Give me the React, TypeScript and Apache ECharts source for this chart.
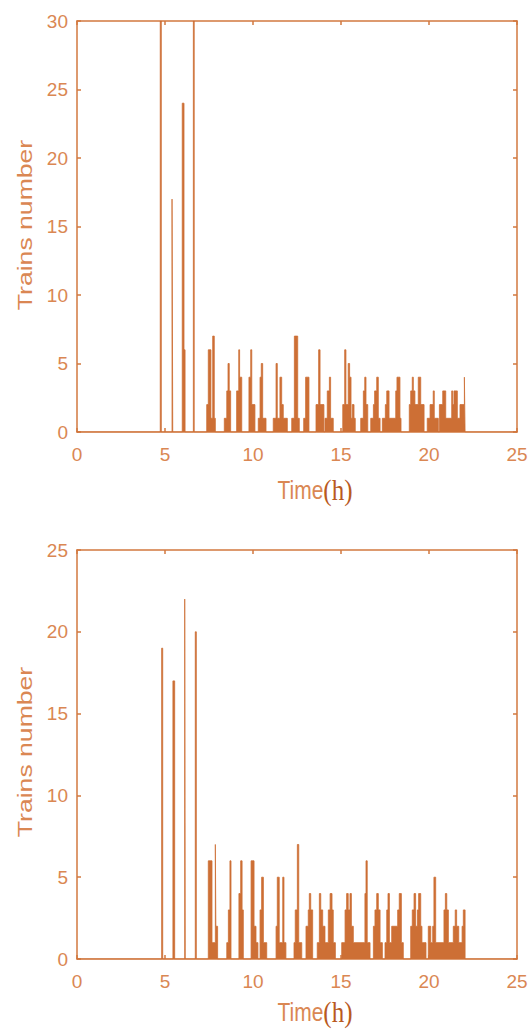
import React, { useEffect, useRef } from "react";
import * as echarts from "echarts";

// [start hour, end hour, trains] — upper panel
const topSpikes: number[][] = [
  [4.73, 4.79, 30],
  [5.4, 5.44, 17],
  [5.98, 6.08, 24],
  [6.08, 6.14, 6],
  [6.61, 6.66, 30],
];
const topBins: number[][] = [
  [7.37, 7.46, 2], [7.46, 7.61, 6], [7.61, 7.71, 1], [7.71, 7.8, 7], [7.8, 7.86, 1],
  [8.37, 8.51, 1], [8.51, 8.58, 3], [8.58, 8.65, 5], [8.65, 8.73, 3],
  [9.07, 9.19, 3], [9.19, 9.24, 6], [9.24, 9.36, 4],
  [9.77, 9.87, 4], [9.87, 9.93, 6], [9.93, 10.11, 2],
  [10.3, 10.4, 1], [10.4, 10.47, 4], [10.47, 10.55, 5], [10.55, 10.74, 1],
  [11.15, 11.31, 1], [11.31, 11.38, 5], [11.38, 11.53, 1], [11.53, 11.63, 4], [11.63, 11.72, 2], [11.72, 11.95, 1],
  [12.2, 12.35, 1], [12.35, 12.54, 7], [12.54, 12.63, 1],
  [12.88, 12.99, 1], [12.99, 13.18, 4],
  [13.58, 13.73, 2], [13.73, 13.81, 6], [13.81, 14.03, 2],
  [14.09, 14.22, 1], [14.22, 14.34, 3], [14.34, 14.41, 4], [14.41, 14.56, 1],
  [15.1, 15.21, 2], [15.21, 15.28, 6], [15.28, 15.41, 2], [15.41, 15.49, 5], [15.49, 15.57, 4],
  [15.57, 15.64, 1], [15.64, 15.74, 2], [15.74, 15.81, 1],
  [16.12, 16.27, 1], [16.27, 16.35, 3], [16.35, 16.42, 4], [16.42, 16.52, 2],
  [16.69, 16.84, 1], [16.84, 16.91, 2], [16.91, 17.03, 3], [17.03, 17.12, 4], [17.12, 17.22, 1],
  [17.35, 17.52, 1], [17.52, 17.6, 2], [17.6, 17.73, 3], [17.73, 18.11, 1], [18.11, 18.18, 3], [18.18, 18.35, 4], [18.35, 18.41, 1],
  [18.88, 18.96, 2], [18.96, 19.05, 3], [19.05, 19.11, 4], [19.11, 19.2, 3], [19.2, 19.39, 2], [19.39, 19.53, 4], [19.53, 19.72, 2],
  [19.9, 20.06, 1], [20.06, 20.24, 2], [20.24, 20.3, 3], [20.3, 20.53, 1],
  [20.59, 20.78, 2], [20.78, 20.95, 3], [20.95, 21.29, 1], [21.29, 21.35, 3], [21.35, 21.42, 2],
  [21.42, 21.61, 3], [21.61, 21.76, 1], [21.76, 22.01, 2], [22.01, 22.05, 4],
];

// lower panel
const bottomSpikes: number[][] = [
  [4.81, 4.87, 19],
  [5.45, 5.55, 17],
  [6.12, 6.15, 22],
  [6.72, 6.78, 20],
];
const bottomBins: number[][] = [
  [7.46, 7.67, 6], [7.67, 7.86, 1], [7.86, 7.89, 7], [7.89, 7.99, 2],
  [8.51, 8.6, 1], [8.6, 8.69, 3], [8.69, 8.75, 6],
  [9.2, 9.3, 4], [9.3, 9.38, 6], [9.38, 9.45, 3],
  [9.89, 10.06, 6], [10.06, 10.17, 2], [10.17, 10.28, 1],
  [10.4, 10.49, 3], [10.49, 10.59, 5], [10.59, 10.78, 1],
  [11.31, 11.38, 2], [11.38, 11.49, 5], [11.49, 11.69, 1], [11.69, 11.76, 5], [11.76, 11.87, 1],
  [12.33, 12.4, 1], [12.4, 12.52, 3], [12.52, 12.6, 7], [12.6, 12.77, 1],
  [13.01, 13.14, 2], [13.14, 13.2, 3], [13.2, 13.28, 4], [13.28, 13.39, 3],
  [13.65, 13.77, 1], [13.77, 13.85, 4], [13.85, 13.96, 3], [13.96, 14.09, 2], [14.09, 14.28, 1],
  [14.28, 14.38, 3], [14.38, 14.49, 4], [14.49, 14.56, 3], [14.56, 14.68, 1],
  [15.04, 15.23, 1], [15.23, 15.32, 3], [15.32, 15.41, 4], [15.41, 15.51, 3], [15.51, 15.59, 4], [15.59, 15.7, 2],
  [15.7, 16.36, 1], [16.36, 16.42, 4], [16.42, 16.49, 6], [16.49, 16.65, 1],
  [16.84, 16.93, 2], [16.93, 17.03, 3], [17.03, 17.12, 4], [17.12, 17.22, 3], [17.22, 17.35, 1],
  [17.5, 17.6, 1], [17.6, 17.67, 3], [17.67, 17.75, 4], [17.75, 17.88, 1], [17.88, 18.22, 2],
  [18.22, 18.31, 3], [18.31, 18.43, 4], [18.43, 18.54, 1],
  [18.96, 19.05, 2], [19.05, 19.15, 3], [19.15, 19.24, 4], [19.24, 19.34, 2], [19.34, 19.41, 3],
  [19.41, 19.53, 4], [19.53, 19.6, 2], [19.6, 19.83, 1],
  [19.96, 20.1, 2], [20.1, 20.21, 1], [20.21, 20.28, 2], [20.28, 20.38, 5], [20.38, 20.85, 1],
  [20.85, 20.93, 3], [20.93, 21.01, 4], [21.01, 21.1, 3], [21.1, 21.38, 1], [21.38, 21.49, 2],
  [21.49, 21.57, 3], [21.57, 21.69, 2], [21.69, 21.88, 1], [21.88, 21.95, 2], [21.95, 22.05, 3],
];

const X_MIN = 0;
const X_MAX = 25;
const X_STEP = 5;
const Y_STEP = 5;
const TOP_Y_MAX = 30;
const BOTTOM_Y_MAX = 25;

const BAR = "#CD6F35";
const AXIS = "#D2783F";
const TEXT = "#DA8753";
const SANS = "'Liberation Sans', Arial, sans-serif";
const SERIF = "'Liberation Serif', 'Times New Roman', serif";

// turn [start, end, count] bins into step-line points (value holds until next point)
function toSteps(bins: number[][]): number[][] {
  const sorted = [...bins].sort((a, b) => a[0] - b[0]);
  const pts: number[][] = [[X_MIN, 0]];
  sorted.forEach((b, i) => {
    pts.push([b[0], b[2]]);
    const next = sorted[i + 1];
    if (!next || Math.abs(next[0] - b[1]) > 1e-6) pts.push([b[1], 0]);
  });
  pts.push([X_MAX, 0]);
  return pts;
}

export default function App() {
  const ref = useRef<HTMLDivElement>(null);

  useEffect(() => {
    if (!ref.current) return;
    const chart = echarts.init(ref.current, undefined, { renderer: "svg" });

    const lineStyle = { color: AXIS, width: 1.5 };
    const mkX = (g: number, pos: "bottom" | "top") => ({
      type: "value",
      gridIndex: g,
      position: pos,
      min: X_MIN,
      max: X_MAX,
      interval: X_STEP,
      axisLine: { show: true, onZero: false, lineStyle },
      axisTick: { show: true, inside: true, length: 4, lineStyle },
      axisLabel: {
        show: pos === "bottom",
        margin: 13,
        fontSize: 19,
        color: TEXT,
        fontFamily: SANS,
      },
      splitLine: { show: false },
    });
    const mkY = (g: number, pos: "left" | "right", max: number) => ({
      type: "value",
      gridIndex: g,
      position: pos,
      min: 0,
      max,
      interval: Y_STEP,
      axisLine: { show: true, onZero: false, lineStyle },
      axisTick: { show: true, inside: true, length: 4, lineStyle },
      axisLabel: {
        show: pos === "left",
        margin: 9,
        fontSize: 19,
        color: TEXT,
        fontFamily: SANS,
      },
      splitLine: { show: false },
    });

    const mkSeries = (bins: number[][], xi: number, yi: number) => ({
      type: "line",
      xAxisIndex: xi,
      yAxisIndex: yi,
      step: "end",
      showSymbol: false,
      symbol: "none",
      data: toSteps(bins),
      lineStyle: { color: BAR, width: 0.8 },
      areaStyle: { color: BAR, opacity: 1 },
      clip: true,
      silent: true,
      z: 1,
    });

    const yTitle = (cy: number) => ({
      type: "text",
      x: 25,
      y: cy,
      rotation: Math.PI / 2,
      scaleX: 1.33,
      style: {
        text: "Trains number",
        fontSize: 20,
        fontFamily: SANS,
        fill: TEXT,
        align: "center",
        verticalAlign: "middle",
      },
    });
    const xTitle = (cy: number) => ({
      type: "text",
      x: 315,
      y: cy,
      scaleY: 1.22,
      style: {
        text: "{a|Time}{b|(h)}",
        align: "center",
        verticalAlign: "middle",
        rich: {
          a: { fontSize: 21, fontFamily: SANS, fill: TEXT },
          b: { fontSize: 25, fontFamily: SERIF, fill: "#B95A1E" },
        },
      },
    });

    chart.setOption({
      animation: false,
      backgroundColor: "#ffffff",
      grid: [
        { left: 77, top: 21, width: 440, height: 411 },
        { left: 77, top: 550, width: 440, height: 409 },
      ],
      xAxis: [mkX(0, "bottom"), mkX(0, "top"), mkX(1, "bottom"), mkX(1, "top")],
      yAxis: [
        mkY(0, "left", TOP_Y_MAX),
        mkY(0, "right", TOP_Y_MAX),
        mkY(1, "left", BOTTOM_Y_MAX),
        mkY(1, "right", BOTTOM_Y_MAX),
      ],
      series: [
        mkSeries([...topSpikes, ...topBins], 0, 0),
        mkSeries([...bottomSpikes, ...bottomBins], 2, 2),
      ],
      graphic: [yTitle(225), xTitle(490), yTitle(752), xTitle(1012)],
    });

    return () => chart.dispose();
  }, []);

  return (
    <div
      ref={ref}
      style={{ position: "absolute", left: 0, top: 0, width: 532, height: 1030, background: "#fff" }}
    />
  );
}
